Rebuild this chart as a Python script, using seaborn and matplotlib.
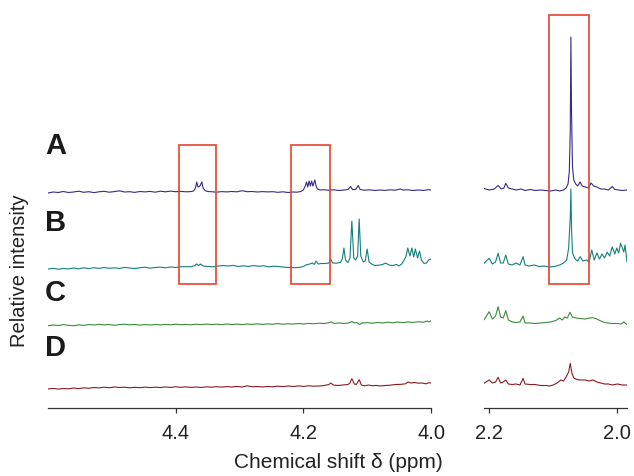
import numpy as np
import pandas as pd
import matplotlib
matplotlib.use("Agg")
import matplotlib.pyplot as plt
from matplotlib.patches import Rectangle
import seaborn as sns

sns.set_theme(style="white")
plt.rcParams['font.family'] = ['Liberation Sans', 'DejaVu Sans']

sample_labels = ["A", "B", "C", "D"]
colors = ["#3b2887", "#12807b", "#3b8a3b", "#8c1a22"]

# ---------- left region (4.6 - 4.0 ppm) ----------
A_left_ppm = [4.600, 4.592, 4.584, 4.576, 4.568, 4.560, 4.552, 4.544, 4.536, 4.528, 4.520, 4.512, 4.504, 4.496,
              4.488, 4.480, 4.472, 4.464, 4.456, 4.448, 4.440, 4.432, 4.424, 4.416, 4.408, 4.400, 4.392, 4.384,
              4.376, 4.372, 4.369, 4.367, 4.365, 4.362, 4.359, 4.357, 4.354, 4.350, 4.344, 4.336, 4.328, 4.320,
              4.312, 4.304, 4.296, 4.288, 4.280, 4.272, 4.264, 4.256, 4.248, 4.240, 4.232, 4.224, 4.216, 4.210,
              4.204, 4.200, 4.197, 4.195, 4.193, 4.191, 4.189, 4.187, 4.185, 4.182, 4.180, 4.178, 4.174, 4.168,
              4.160, 4.152, 4.144, 4.136, 4.130, 4.126, 4.123, 4.118, 4.114, 4.111, 4.104, 4.096, 4.088, 4.080,
              4.072, 4.064, 4.056, 4.048, 4.044, 4.036, 4.028, 4.020, 4.012, 4.004, 4.000]
A_left_int = [-1, 0, -0.5, 0.5, -0.5, 0, 0.8, -0.3, 0.3, -0.6, 0.2, 0.7, -0.2, 0.4,
              1.2, 0, 0.3, -0.4, 0.5, 0.1, 0.6, -0.2, 0.8, 0.2, 0.9, 0.3, 0.6, 0.2,
              0.4, 1, 4, 10, 5, 6, 10, 4, 1.5, 0.5, 0.3, -0.2, 0.4, 0.1,
              0.5, 0.2, 1.3, 0.3, 0.5, 0, 0.4, 0.1, 0.3, -0.3, 0.2, -0.5, 0, -0.2,
              0.5, 2, 6, 10, 5, 11, 6, 11, 6, 12, 6, 3, 2, 2.2,
              1.8, 2.2, 1.5, 2, 2.5, 5.5, 2.5, 2.5, 6.5, 2.5, 1.8, 2.2, 1.5, 2,
              1.6, 2.2, 1.8, 3, 2, 2.2, 1.5, 2, 1.6, 2.3, 2]

B_left_ppm = [4.600, 4.592, 4.584, 4.576, 4.568, 4.560, 4.552, 4.544, 4.536, 4.528, 4.520, 4.512, 4.504, 4.496,
              4.488, 4.480, 4.472, 4.464, 4.456, 4.448, 4.440, 4.432, 4.424, 4.416, 4.408, 4.400, 4.392, 4.384,
              4.376, 4.370, 4.367, 4.364, 4.361, 4.357, 4.350, 4.342, 4.334, 4.326, 4.318, 4.310, 4.302, 4.294,
              4.286, 4.278, 4.270, 4.262, 4.254, 4.246, 4.238, 4.230, 4.222, 4.214, 4.206, 4.200, 4.196, 4.190,
              4.186, 4.183, 4.180, 4.177, 4.172, 4.166, 4.160, 4.157, 4.154, 4.148, 4.142, 4.139, 4.1364, 4.134,
              4.130, 4.127, 4.124, 4.121, 4.118, 4.115, 4.1125, 4.110, 4.106, 4.103, 4.100, 4.097, 4.093, 4.088,
              4.082, 4.076, 4.071, 4.066, 4.060, 4.054, 4.050, 4.046, 4.042, 4.039, 4.0364, 4.033, 4.030, 4.027,
              4.0245, 4.021, 4.018, 4.015, 4.011, 4.007, 4.004, 4.000]
B_left_int = [-1, -0.3, -1.2, -0.5, -0.9, 0, -0.8, 0.2, -0.6, 0.3, -0.4, 0.5, -0.3, 0.2,
              -0.5, 0.6, 0, -0.6, 0.3, 0.8, -0.2, 0.5, 0.9, 0.2, 1.0, 0.6, 1.2, 1.4,
              1.2, 2.5, 4, 2.5, 4, 2, 1.5, 1.2, 1.8, 2.5, 2, 2.6, 1.5, 2.2,
              1.6, 2.4, 1.8, 2.2, 1.2, 1.8, 1.5, 0.8, 0.5, 0.3, 0.6, 1.5, 3, 4,
              5, 3.5, 7, 4, 4.5, 4.5, 5, 8.7, 5, 4.8, 5.5, 9, 20, 8,
              5.5, 10, 47, 10, 8, 12, 49, 12, 6, 7, 19, 6, 4, 2.5,
              2.8, 3.5, 5, 3, 2.5, 3.5, 2, 4, 8, 12, 20, 12, 20, 11,
              19, 10, 17, 8, 4.5, 5, 8, 9]

C_left_ppm = [4.600, 4.592, 4.584, 4.576, 4.568, 4.560, 4.552, 4.544, 4.536, 4.528, 4.520, 4.512, 4.504, 4.496,
              4.488, 4.480, 4.472, 4.464, 4.456, 4.448, 4.440, 4.432, 4.424, 4.416, 4.408, 4.400, 4.392, 4.384,
              4.376, 4.368, 4.360, 4.352, 4.344, 4.336, 4.328, 4.320, 4.312, 4.304, 4.296, 4.288, 4.280, 4.272,
              4.264, 4.256, 4.248, 4.240, 4.232, 4.224, 4.216, 4.208, 4.200, 4.192, 4.184, 4.176, 4.168, 4.160,
              4.157, 4.152, 4.144, 4.136, 4.128, 4.124, 4.120, 4.116, 4.112, 4.108, 4.100, 4.092, 4.084, 4.076,
              4.068, 4.060, 4.052, 4.044, 4.036, 4.028, 4.020, 4.012, 4.006, 4.003, 4.000]
C_left_int = [-0.7, 0, -0.5, 0.4, -0.3, -0.8, 0.2, -0.4, 0.5, 0, 0.7, 0.1, 0.5, -0.3,
              0.4, 0.8, 0.2, 0.5, -0.1, 0.4, 0, 0.5, 0.1, 0.6, 0.2, 0.8, 0.3, 0.6,
              0.2, 0.8, 0.4, 0.9, 0.5, 0.8, 0.3, 1.0, 0.5, 0.9, 0.4, 1.0, 0.6, 1.2,
              0.6, 1.1, 0.8, 1.4, 0.8, 1.2, 0.9, 1.5, 1.0, 1.6, 1.2, 1.8, 1.5, 2.2,
              3.2, 1.6, 2, 1.5, 2.2, 3.5, 2, 2.5, 0.5, 2, 2.4, 1.8, 2.6, 2,
              2.8, 2.2, 3, 2.4, 3, 2.6, 3.2, 2.8, 4, 3, 4.2]

D_left_ppm = [4.600, 4.592, 4.584, 4.576, 4.568, 4.560, 4.552, 4.544, 4.536, 4.528, 4.520, 4.512, 4.504, 4.496,
              4.488, 4.480, 4.472, 4.464, 4.456, 4.448, 4.440, 4.432, 4.424, 4.416, 4.408, 4.400, 4.392, 4.384,
              4.376, 4.368, 4.360, 4.352, 4.344, 4.336, 4.328, 4.320, 4.312, 4.304, 4.296, 4.288, 4.280, 4.272,
              4.264, 4.256, 4.248, 4.240, 4.232, 4.224, 4.216, 4.208, 4.200, 4.192, 4.184, 4.176, 4.168, 4.160,
              4.157, 4.153, 4.146, 4.138, 4.130, 4.127, 4.124, 4.120, 4.117, 4.1125, 4.109, 4.104, 4.098, 4.092,
              4.086, 4.080, 4.072, 4.064, 4.056, 4.048, 4.040, 4.036, 4.032, 4.026, 4.020, 4.014, 4.008, 4.004,
              4.000]
D_left_int = [-1, -0.4, -1.1, -0.5, -0.8, 0, -0.6, 0.2, -0.3, 0.5, 0.1, 0.8, 0.3, 1.0,
              0.5, 0.8, 0.2, 0.7, 0.3, 0.9, 0.4, 0.8, 0.5, 1.0, 0.6, 1.2, 0.7, 1.1,
              0.6, 1.0, 0.5, 1.2, 0.8, 1.3, 0.9, 1.4, 1.0, 1.6, 1.0, 2.2, 1.2, 1.5,
              1.0, 1.6, 1.2, 1.8, 1.4, 2.0, 1.5, 2.1, 1.6, 2.2, 1.8, 2.0, 2.4, 3.5,
              5, 3, 2.5, 3, 3.5, 5, 9.3, 4, 3.5, 8.3, 3, 2.2, 3, 2.2,
              2.6, 2, 2.5, 2.8, 3.5, 3.6, 4.2, 6, 5, 5.5, 4.8, 5, 4.2, 5.2,
              5]

# ---------- right region (2.2 - 2.0 ppm) ----------
A_right_ppm = [2.208, 2.200, 2.192, 2.186, 2.181, 2.177, 2.174, 2.170, 2.164, 2.158, 2.150, 2.144, 2.136, 2.128,
               2.120, 2.112, 2.104, 2.096, 2.090, 2.084, 2.080, 2.077, 2.075, 2.0735, 2.0725, 2.0715, 2.070, 2.068,
               2.065, 2.062, 2.058, 2.055, 2.050, 2.045, 2.041, 2.037, 2.032, 2.026, 2.020, 2.014, 2.008, 2.004,
               1.998, 1.992, 1.985]
A_right_int = [3.5, 2, 3, 6.5, 3, 4, 8.7, 4, 3, 2, 3, 1.5, 2.5, 1.5,
               2, 1.5, 1, 2, 1, 2, 4, 8, 20, 60, 155, 80, 25, 12,
               8, 6, 10, 6, 5, 4, 9, 6, 5, 3, 3, 2, 5.5, 2.5,
               2, 1.5, 2]

B_right_ppm = [2.208, 2.200, 2.195, 2.190, 2.186, 2.182, 2.178, 2.174, 2.170, 2.164, 2.158, 2.152, 2.147, 2.144,
               2.138, 2.130, 2.122, 2.114, 2.106, 2.098, 2.090, 2.084, 2.079, 2.076, 2.0735, 2.0725, 2.0715, 2.070,
               2.066, 2.062, 2.058, 2.054, 2.048, 2.044, 2.040, 2.036, 2.032, 2.028, 2.024, 2.020, 2.016, 2.012,
               2.008, 2.004, 2.001, 1.998, 1.995, 1.990, 1.988, 1.985]
B_right_int = [4.7, 9.7, 4, 6, 14.7, 5, 5, 13, 4, 3, 5, 3, 11.3, 3,
               2, 3, 1.5, 2, 1, 1.5, 3, 5, 8, 20, 50, 79, 40, 15,
               9, 7, 11.3, 7, 8, 6, 18, 8, 15, 9, 14, 10, 16, 12,
               21, 14, 20, 15, 24.7, 16, 23, 6]

C_right_ppm = [2.208, 2.200, 2.195, 2.190, 2.186, 2.182, 2.178, 2.174, 2.170, 2.164, 2.158, 2.152, 2.147, 2.144,
               2.136, 2.128, 2.120, 2.112, 2.104, 2.096, 2.090, 2.086, 2.082, 2.078, 2.074, 2.070, 2.064, 2.058,
               2.050, 2.044, 2.038, 2.032, 2.026, 2.020, 2.014, 2.008, 2.000, 1.994, 1.990, 1.985]
C_right_int = [5, 13.3, 6, 9, 18.3, 8, 7, 14.3, 5, 3, 2.5, 3, 9, 2,
               2, 1.5, 2, 2.5, 3, 4.5, 7, 5, 8, 7, 12.7, 8, 7, 6.5,
               6, 7, 7.3, 6, 4, 2.5, 2, 1.5, 1.5, 1, 3, 0.5]

D_right_ppm = [2.208, 2.200, 2.195, 2.190, 2.186, 2.182, 2.178, 2.174, 2.170, 2.164, 2.158, 2.152, 2.147, 2.144,
               2.136, 2.128, 2.120, 2.112, 2.106, 2.100, 2.094, 2.088, 2.084, 2.080, 2.076, 2.0735, 2.071, 2.068,
               2.064, 2.058, 2.050, 2.044, 2.038, 2.032, 2.026, 2.020, 2.014, 2.008, 2.000, 1.992, 1.985]
D_right_int = [4.7, 8, 5, 6, 10.7, 5, 6, 8, 4, 3.5, 4, 3, 9.7, 4,
               3.5, 3.5, 2.5, 2.5, 2, 3, 5, 8, 7, 11, 16, 24.7, 15, 10,
               8.7, 8, 8, 7, 8, 6, 5, 4, 4, 3, 4, 3, 3]

left_ppm = [A_left_ppm, B_left_ppm, C_left_ppm, D_left_ppm]
left_int = [A_left_int, B_left_int, C_left_int, D_left_int]
right_ppm = [A_right_ppm, B_right_ppm, C_right_ppm, D_right_ppm]
right_int = [A_right_int, B_right_int, C_right_int, D_right_int]

# vertical stacking offsets of the four spectra
offsets = [216, 140, 83, 20]

# highlighted regions (ppm ranges)
left_boxes = [(4.395, 4.3375), (4.219, 4.158)]
right_boxes = [(2.106, 2.045)]

W, H = 634, 476
fig = plt.figure(figsize=(W / 100, H / 100), dpi=100)
bottom = (H - 408) / H
height = 400 / H
ax1 = fig.add_axes([48 / W, bottom, 383 / W, height])
ax2 = fig.add_axes([484 / W, bottom, 143 / W, height])

for i in range(4):
    df_l = pd.DataFrame({"ppm": left_ppm[i], "y": np.array(left_int[i]) + offsets[i]})
    df_r = pd.DataFrame({"ppm": right_ppm[i], "y": np.array(right_int[i]) + offsets[i]})
    sns.lineplot(data=df_l, x="ppm", y="y", ax=ax1, color=colors[i], lw=0.8, sort=False, estimator=None)
    sns.lineplot(data=df_r, x="ppm", y="y", ax=ax2, color=colors[i], lw=0.8, sort=False, estimator=None)

ax1.set_xlim(4.6, 4.0)
ax2.set_xlim(2.208, 1.985)
for ax in (ax1, ax2):
    ax.set_ylim(0, 400)
    ax.set_yticks([])
    ax.set_xlabel("")
    ax.set_ylabel("")
    for s in ("top", "right", "left"):
        ax.spines[s].set_visible(False)
    ax.spines["bottom"].set_color("#333333")
    ax.spines["bottom"].set_linewidth(0.9)
    ax.tick_params(axis="x", direction="out", length=3.5, width=0.9, color="#333333",
                   labelsize=14.5, labelcolor="#222222", pad=8, bottom=True)
    ax.set_facecolor("none")

ax1.set_xticks([4.4, 4.2, 4.0])
ax1.set_xticklabels(["4.4", "4.2", "4.0"])
ax2.set_xticks([2.2, 2.0])
ax2.set_xticklabels(["2.2", "2.0"])

box_color = "#e8412f"
for (x0, x1) in left_boxes:
    ax1.add_patch(Rectangle((x1, 124), x0 - x1, 139, fill=False, ec=box_color, lw=1.2, zorder=5))
for (x0, x1) in right_boxes:
    ax2.add_patch(Rectangle((x1, 124), x0 - x1, 269, fill=False, ec=box_color, lw=1.2, zorder=5))

label_y = [146, 223, 293, 348]
for lab, yp in zip(sample_labels, label_y):
    fig.text(45 / W, 1 - yp / H, lab, ha="left", va="center", fontsize=21,
             fontweight="bold", color="#1a1a1a")

fig.text(20 / W, 1 - 271 / H, "Relative intensity", rotation=90, ha="center", va="center",
         fontsize=14.5, color="#222222")
fig.text(338 / W, 1 - 462 / H, "Chemical shift δ (ppm)", ha="center", va="center",
         fontsize=15, color="#222222")

fig.savefig("out.png", dpi=100)
